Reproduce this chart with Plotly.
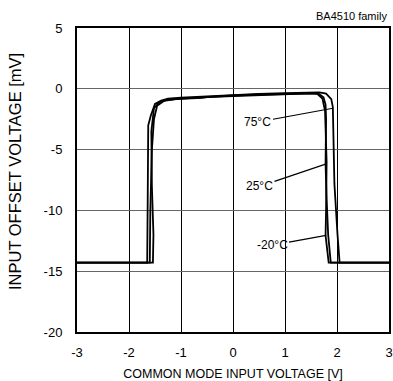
import plotly.graph_objects as go

# Common mode input voltage [V] and input offset voltage [mV] for three temperatures
cmv_75 = [-3.0, -1.65, -1.64, -1.63, -1.58, -1.50, -1.38, -1.25, -1.0, -0.5, 0.0, 0.5, 1.0, 1.5, 1.66, 1.79, 1.89, 1.92, 1.95, 2.01, 2.05, 3.0]
vos_75 = [-14.3, -14.3, -9.0, -3.0, -2.2, -1.25, -0.97, -0.8, -0.72, -0.6, -0.5, -0.42, -0.35, -0.3, -0.3, -0.4, -0.85, -1.5, -7.8, -12.0, -14.3, -14.3]

cmv_25 = [-3.0, -1.54, -1.53, -1.56, -1.57, -1.52, -1.42, -1.25, -1.0, -0.5, 0.0, 0.5, 1.0, 1.5, 1.64, 1.74, 1.78, 1.79, 1.78, 1.80, 1.83, 1.88, 3.0]
vos_25 = [-14.3, -14.3, -12.0, -8.0, -3.5, -1.6, -1.1, -0.9, -0.8, -0.66, -0.55, -0.47, -0.4, -0.35, -0.37, -0.7, -1.3, -2.5, -6.2, -9.0, -12.0, -14.3, -14.3]

cmv_m20 = [-3.0, -1.60, -1.59, -1.56, -1.52, -1.46, -1.33, -1.1, -0.6, -0.5, 0.0, 0.5, 0.8, 1.0, 1.5, 1.62, 1.72, 1.77, 1.80, 1.79, 1.78, 1.84, 3.0]
vos_m20 = [-14.3, -14.3, -10.0, -5.0, -2.5, -1.4, -1.0, -0.85, -0.75, -0.68, -0.6, -0.52, -0.5, -0.42, -0.38, -0.42, -0.8, -1.8, -6.0, -10.0, -12.06, -14.3, -14.3]

labels = ["75°C", "25°C", "-20°C"]
label_pos_x = [0.48, 0.51, 0.75]
label_pos_y = [-2.73, -8.03, -12.86]
label_tip_x = [1.92, 1.78, 1.79]
label_tip_y = [-1.6, -6.2, -12.06]

x_ticks = [-3, -2, -1, 0, 1, 2, 3]
x_ticktext = ["-3", "-2", "-1", "0", "1", "2", "3"]
y_ticks = [5, 0, -5, -10, -15, -20]
y_ticktext = ["5", "0", "-5", "-10", "-15", "-20"]

FONT = "Liberation Sans, Arial, sans-serif"

fig = go.Figure()
for xs, ys in [(cmv_75, vos_75), (cmv_25, vos_25), (cmv_m20, vos_m20)]:
    fig.add_trace(go.Scatter(x=xs, y=ys, mode="lines",
                             line=dict(color="black", width=1.8),
                             showlegend=False, hoverinfo="skip"))

for t, ax_, ay_, x_, y_ in zip(labels, label_pos_x, label_pos_y, label_tip_x, label_tip_y):
    fig.add_annotation(x=x_, y=y_, ax=ax_, ay=ay_, axref="x", ayref="y",
                       xref="x", yref="y", text=t, showarrow=True,
                       arrowhead=0, arrowwidth=1.2, arrowcolor="black",
                       font=dict(family=FONT, size=12, color="black"),
                       bgcolor="rgba(0,0,0,0)")

# family label, top right
fig.add_annotation(x=1, y=1, xref="paper", yref="paper", xanchor="right",
                   yanchor="bottom", yshift=5, xshift=-1, text="BA4510 family",
                   showarrow=False, borderpad=0,
                   font=dict(family=FONT, size=11, color="black"))

# y-axis title as a rotated annotation (placed like the reference)
fig.add_annotation(x=0, y=0.5, xref="paper", yref="paper", xanchor="center",
                   yanchor="middle", xshift=-62, yshift=8, textangle=-90,
                   text="INPUT OFFSET VOLTAGE [mV]", showarrow=False,
                   font=dict(family=FONT, size=16.5, color="black"))

fig.update_layout(
    width=393, height=381,
    margin=dict(l=77, r=4, t=28, b=49),
    paper_bgcolor="white", plot_bgcolor="white",
    font=dict(family=FONT, size=13, color="black"),
    xaxis=dict(range=[-3, 3], tickvals=x_ticks, ticktext=x_ticktext, showgrid=True,
               gridcolor="black", gridwidth=1, zeroline=False, automargin=False,
               showline=True, linecolor="black", linewidth=2, mirror=True,
               ticks="", ticklabelstandoff=7,
               tickfont=dict(size=13),
               title=dict(text="COMMON MODE INPUT VOLTAGE [V]", standoff=15,
                          font=dict(size=12.5))),
    yaxis=dict(range=[-20, 5], tickvals=y_ticks, ticktext=y_ticktext, showgrid=True,
               gridcolor="#666666", gridwidth=1, zeroline=False, automargin=False,
               showline=True, linecolor="black", linewidth=2, mirror=True,
               ticks="", ticklabelstandoff=10,
               tickfont=dict(size=13)),
)

fig.write_html("out.html", config={"displayModeBar": False},
               post_script="document.body.style.margin='0';document.body.style.overflow='hidden';")
